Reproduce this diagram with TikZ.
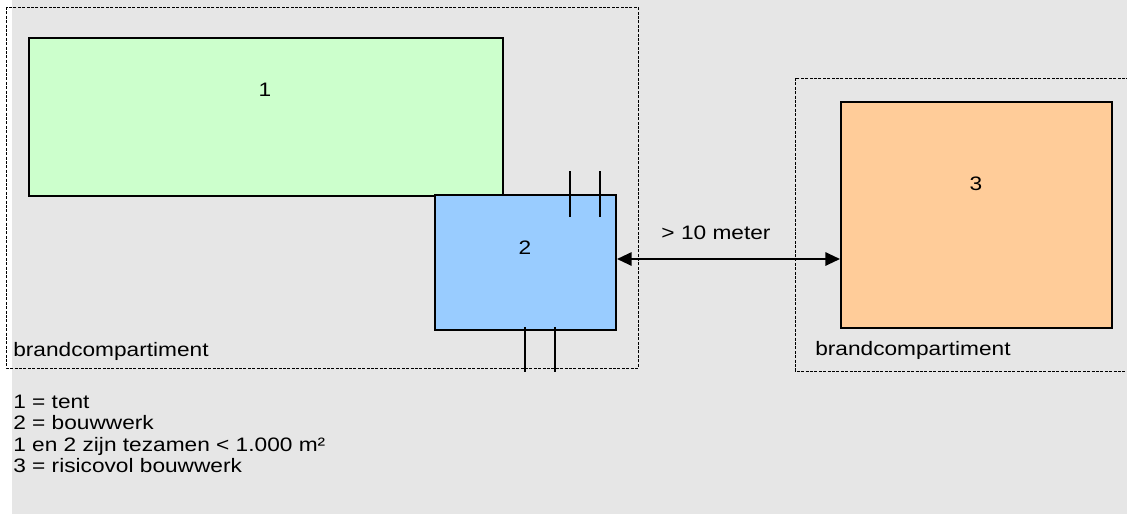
\documentclass[tikz,border=0pt]{standalone}
\usepackage{fontspec}
\setmainfont{Liberation Sans}[FakeStretch=1.165]
\usetikzlibrary{arrows.meta}
\definecolor{bggray}{RGB}{230,230,230}
\definecolor{tentgreen}{RGB}{204,255,204}
\definecolor{bouwblue}{RGB}{153,204,255}
\definecolor{risicoorange}{RGB}{255,204,153}
\tikzset{
  compart/.style={draw=black, line width=0.75pt, dash pattern=on 2.2pt off 1.1pt},
  building/.style={draw=black, line width=1.5pt},
  tick/.style={draw=black, line width=1.5pt},
  lbl/.style={inner sep=0pt, font=\fontsize{14.6pt}{17pt}\selectfont},
  dist/.style={draw=black, line width=1.5pt, {Triangle[length=11pt,width=10pt]}-{Triangle[length=11pt,width=10pt]}}
}
\begin{document}
\begin{tikzpicture}[x=0.75pt, y=-0.75pt]
\useasboundingbox (0,0) rectangle (1127,514);
\clip (0,0) rectangle (1127,514);
\fill[bggray] (12,0) rectangle (1127,514);
% brandcompartimenten
\draw[compart] (6,7) rectangle (638,368);
\draw[compart] (795,78) rectangle (1140,371);
% gebouwen
\node[building, fill=tentgreen, minimum width=474*0.75pt, minimum height=158*0.75pt, inner sep=0pt, anchor=north west] (b1) at (28,37) {};
\node[building, fill=bouwblue, minimum width=181*0.75pt, minimum height=135*0.75pt, inner sep=0pt, anchor=north west] (b2) at (434,194) {};
\node[building, fill=risicoorange, minimum width=271*0.75pt, minimum height=226*0.75pt, inner sep=0pt, anchor=north west] (b3) at (840,101) {};
\node[lbl] (t1) at (265,90) {1};
\node[lbl] (t2) at (525,248) {2};
\node[lbl] (t3) at (976,184) {3};
% doorgangen
\coordinate (ta1) at (570,171); \coordinate (tb1) at (570,217);
\coordinate (ta2) at (600,171); \coordinate (tb2) at (600,217);
\coordinate (ba1) at (525,327); \coordinate (bb1) at (525,372);
\coordinate (ba2) at (555,327); \coordinate (bb2) at (555,372);
\draw[tick] (ta1) -- (tb1);
\draw[tick] (ta2) -- (tb2);
\draw[tick] (ba1) -- (bb1);
\draw[tick] (ba2) -- (bb2);
% afstand
\coordinate (pl) at (b2.east |- 0,259);
\coordinate (pr) at (b3.west |- 0,259);
\draw[dist] (pl) -- (pr);
\node[lbl] (dl) at (716,233) {> 10 meter};
% labels
\node[lbl, anchor=base west] (c1) at (13,356) {brandcompartiment};
\node[lbl, anchor=base west] (c2) at (815,355) {brandcompartiment};
\node[lbl, anchor=base west] (l1) at (13,408.7) {1 = tent};
\node[lbl, anchor=base west] (l2) at (13,429.9) {2 = bouwwerk};
\node[lbl, anchor=base west] (l3) at (13,451.1) {1 en 2 zijn tezamen < 1.000 m²};
\node[lbl, anchor=base west] (l4) at (13,472.3) {3 = risicovol bouwwerk};
\end{tikzpicture}
\end{document}
